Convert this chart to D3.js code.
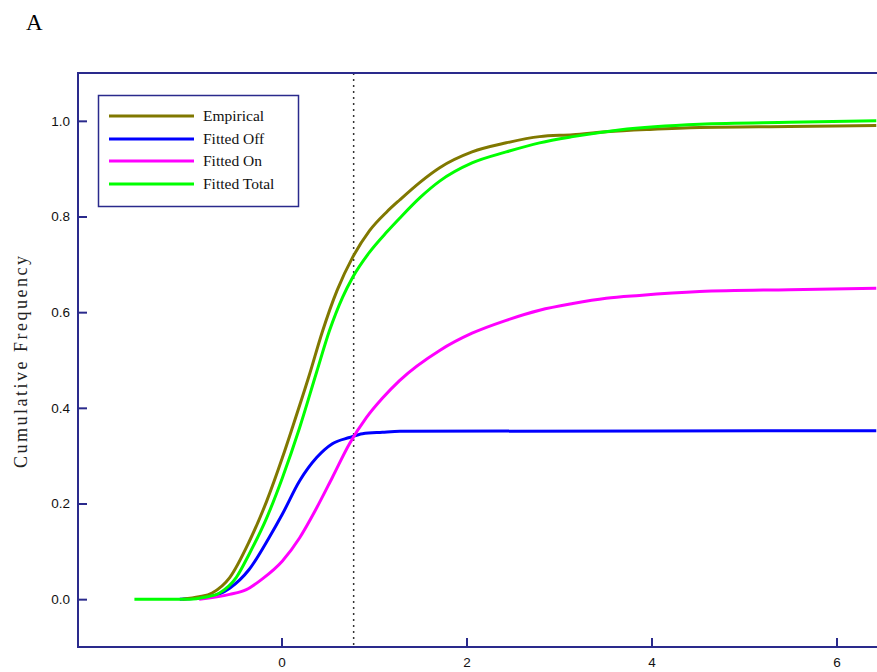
<!DOCTYPE html>
<html><head><meta charset="utf-8">
<script src="https://cdn.jsdelivr.net/npm/d3@7"></script>
<style>body{margin:0;background:#fff}svg{display:block}</style>
</head><body>
<svg id="chart" width="877" height="672"></svg>
<script>
// ---- data ----
const empX = [-1.07,-0.89,-0.75,-0.56,-0.35,-0.16,0.01,0.12,0.30,0.44,0.60,0.77,0.95,1.14,1.28,1.50,1.71,2.06,2.43,2.79,3.15,3.51,3.98,4.52,5.49,6.43];
const empY = [0.0,0.005,0.013,0.045,0.12,0.205,0.296,0.36,0.468,0.558,0.645,0.715,0.77,0.81,0.835,0.872,0.902,0.935,0.954,0.967,0.971,0.977,0.982,0.986,0.988,0.99];
const totX = [-1.59,-0.99,-0.83,-0.67,-0.49,-0.35,-0.16,0.01,0.195,0.38,0.52,0.66,0.77,0.95,1.14,1.28,1.50,1.71,2.06,2.43,2.79,3.15,3.65,4.52,5.49,6.43];
const totY = [0.0,0.0,0.004,0.013,0.045,0.094,0.17,0.254,0.358,0.475,0.562,0.631,0.673,0.725,0.768,0.797,0.84,0.874,0.912,0.935,0.954,0.967,0.981,0.993,0.997,1.0];
const offX = [-1.10,-0.78,-0.56,-0.35,-0.13,0.01,0.195,0.38,0.55,0.735,0.876,1.09,1.28,6.43];
const offY = [0.0,0.005,0.023,0.062,0.13,0.178,0.247,0.296,0.325,0.338,0.346,0.349,0.351,0.352];
const onX = [-0.89,-0.56,-0.38,-0.21,0.01,0.195,0.378,0.551,0.735,0.919,1.09,1.276,1.71,2.06,2.43,2.79,3.15,3.51,3.87,4.52,5.49,6.43];
const onY = [0.0,0.01,0.02,0.042,0.08,0.128,0.19,0.255,0.325,0.38,0.42,0.457,0.52,0.556,0.583,0.604,0.618,0.629,0.635,0.643,0.647,0.65];
const seriesNames = ["Empirical","Fitted Off","Fitted On","Fitted Total"];
const seriesColors = ["#807800","#0000ff","#ff00ff","#00ff00"];
const xTicks = [0,2,4,6];
const yTicks = [0.0,0.2,0.4,0.6,0.8,1.0];
const cutoff = 0.78;
const panelLabel = "A";
const yTitle = "Cumulative Frequency";

// ---- chart ----
const svg = d3.select("#chart");
const pLeft = 78, pTop = 73, pBottom = 647;
const x = d3.scaleLinear().domain([-2.2, 6.5]).range([pLeft, pLeft + 8.7 * 92.5]);
const y = d3.scaleLinear().domain([-0.1, 1.1]).range([pBottom, pTop]);
const axisColor = "#2a2a8c";

svg.append("text").attr("x", 26).attr("y", 30).text(panelLabel)
  .attr("font-family", "Liberation Serif, Times New Roman, serif").attr("font-size", 23).attr("fill", "#000");

// vertical dotted cutoff
svg.append("line").attr("x1", x(cutoff)).attr("x2", x(cutoff)).attr("y1", pTop).attr("y2", pBottom)
  .attr("stroke", "#333").attr("stroke-width", 1.5).attr("stroke-dasharray", "2,4");

// series
const lineGen = d3.line().x(d => x(d[0])).y(d => y(d[1])).curve(d3.curveMonotoneX);
const sets = [[offX, offY, 1], [onX, onY, 2], [empX, empY, 0], [totX, totY, 3]];
sets.forEach(([xs, ys, ci]) => {
  svg.append("path").datum(xs.map((v, i) => [v, ys[i]]))
    .attr("d", lineGen).attr("fill", "none")
    .attr("stroke", seriesColors[ci]).attr("stroke-width", 3);
});

// axes
const yAxis = d3.axisLeft(y).tickValues(yTicks).tickFormat(d3.format(".1f")).tickSizeInner(-9).tickSizeOuter(0).tickPadding(8);
const gy = svg.append("g").attr("transform", `translate(${pLeft},0)`).call(yAxis);
const xAxis = d3.axisBottom(x).tickValues(xTicks).tickFormat(d3.format("d")).tickSizeInner(-9).tickSizeOuter(0).tickPadding(8);
const gx = svg.append("g").attr("transform", `translate(0,${pBottom})`).call(xAxis);
[gx, gy].forEach(g => {
  g.select(".domain").remove();
  g.selectAll(".tick line").attr("stroke", axisColor).attr("stroke-width", 2);
  g.selectAll(".tick text").attr("font-family", "Liberation Sans, Arial, sans-serif").attr("font-size", 13.5).attr("fill", "#111");
});
gx.selectAll(".tick text").attr("dy", "0.9em");

// frame lines
svg.append("line").attr("x1", pLeft).attr("x2", pLeft).attr("y1", pTop).attr("y2", pBottom + 1).attr("stroke", axisColor).attr("stroke-width", 2);
svg.append("line").attr("x1", pLeft - 1).attr("x2", 877).attr("y1", pBottom).attr("y2", pBottom).attr("stroke", axisColor).attr("stroke-width", 2);
svg.append("line").attr("x1", pLeft - 1).attr("x2", 877).attr("y1", pTop).attr("y2", pTop).attr("stroke", axisColor).attr("stroke-width", 2);

// y title
svg.append("text").attr("transform", `translate(27,362) rotate(-90)`).attr("text-anchor", "middle")
  .attr("font-family", "Liberation Serif, Times New Roman, serif").attr("font-size", 18)
  .attr("textLength", 212).attr("lengthAdjust", "spacing").attr("fill", "#222").text(yTitle);

// legend
const lg = svg.append("g");
lg.append("rect").attr("x", 98.5).attr("y", 95.5).attr("width", 200).attr("height", 111)
  .attr("fill", "#fff").attr("stroke", axisColor).attr("stroke-width", 1.5);
const rowsY = [116, 139, 161, 184];
seriesNames.forEach((n, i) => {
  lg.append("line").attr("x1", 109).attr("x2", 194).attr("y1", rowsY[i]).attr("y2", rowsY[i])
    .attr("stroke", seriesColors[i]).attr("stroke-width", 3);
  lg.append("text").attr("x", 203).attr("y", rowsY[i] + 5).text(n)
    .attr("font-family", "Liberation Serif, Times New Roman, serif").attr("font-size", 15.5).attr("fill", "#111");
});
</script>
</body></html>
